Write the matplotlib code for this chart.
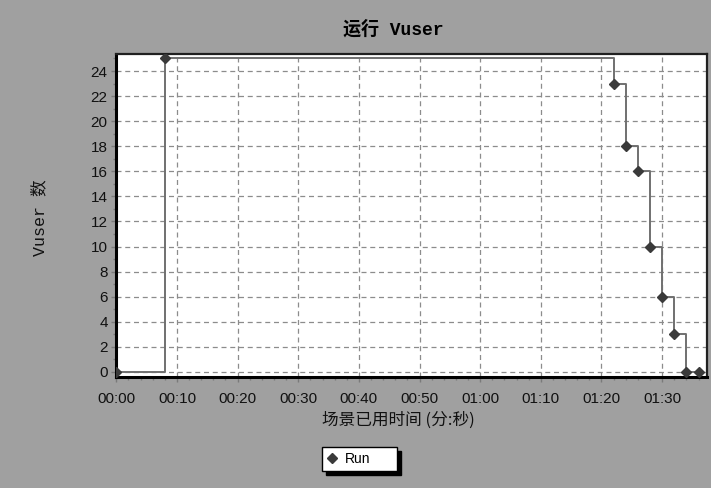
import matplotlib.pyplot as plt
from matplotlib.ticker import MultipleLocator, FuncFormatter

plt.rcParams["font.family"] = ["Liberation Sans", "Noto Sans CJK SC", "DejaVu Sans"]

# ======= データ =======
times = [0, 8, 82, 84, 86, 88, 90, 92, 94, 96]   # 秒
vusers = [0, 25, 23, 18, 16, 10, 6, 3, 0, 0]
series_label = "Run"

title = "运行 Vuser"
xlabel = "场景已用时间 (分:秒)"
ylabel = "Vuser 数"

bg = "#a0a0a0"
mono_cjk = ["Liberation Mono", "Noto Sans CJK SC"]

fig = plt.figure(figsize=(7.11, 4.88), dpi=100, facecolor=bg)
ax = fig.add_axes([0.1632, 0.2275, 0.8312, 0.6619])
ax.set_facecolor("white")

# ======= 折れ線 =======
ax.step(times, vusers, where="post", color="#707070", linewidth=1.4, zorder=3)
ax.plot(times, vusers, linestyle="none", marker="D", markersize=5.5,
        color="#3a3a3a", label=series_label, zorder=4)

ax.set_xlim(-0.05, 97.4)
ax.set_ylim(-0.4, 25.36)

ax.xaxis.set_major_locator(MultipleLocator(10))
ax.xaxis.set_minor_locator(MultipleLocator(2))
ax.yaxis.set_major_locator(MultipleLocator(2))
ax.yaxis.set_minor_locator(MultipleLocator(1))
ax.xaxis.set_major_formatter(FuncFormatter(lambda v, p: "%02d:%02d" % (int(v) // 60, int(v) % 60)))

ax.grid(True, which="major", color="#8c8c8c", linestyle=(0, (4, 3)), linewidth=0.9)
ax.set_axisbelow(True)

ax.tick_params(axis="both", which="major", labelsize=11, colors="#7a7a7a",
               labelcolor="#111111", length=3.5, width=1)
ax.tick_params(axis="both", which="minor", colors="#7a7a7a", length=2.5, width=1)
ax.tick_params(axis="x", which="major", pad=7)
ax.tick_params(axis="y", which="major", pad=2.5)

for side in ["left", "bottom"]:
    ax.spines[side].set_linewidth(2.2)
    ax.spines[side].set_color("black")
for side in ["top", "right"]:
    ax.spines[side].set_linewidth(1.6)
    ax.spines[side].set_color("#202020")

# ======= タイトル・軸ラベル =======
fig.text(0.553, 0.9395, title, ha="center", va="center", fontsize=13,
         fontweight="bold", family=mono_cjk)
fig.text(0.561, 0.139, xlabel, ha="center", va="center", fontsize=12,
         family=["Noto Sans CJK SC", "DejaVu Sans"], color="#111111")
fig.text(0.056, 0.553, ylabel, ha="center", va="center", fontsize=12,
         rotation=90, family=mono_cjk, color="#111111")

# ======= 凡例 =======
leg = fig.legend(loc="center", bbox_to_anchor=(322 / 711, 17 / 488, 75 / 711, 24 / 488),
                 mode="expand", fontsize=10,
                 frameon=True, fancybox=False, handlelength=0.8, handletextpad=0.5,
                 borderpad=0.35, borderaxespad=0, framealpha=1,
                 shadow={"ox": 3, "oy": -3, "color": "black", "alpha": 1})
leg.get_frame().set_edgecolor("black")
leg.get_frame().set_linewidth(1.0)

plt.savefig("out.png", dpi=100, facecolor=bg)
